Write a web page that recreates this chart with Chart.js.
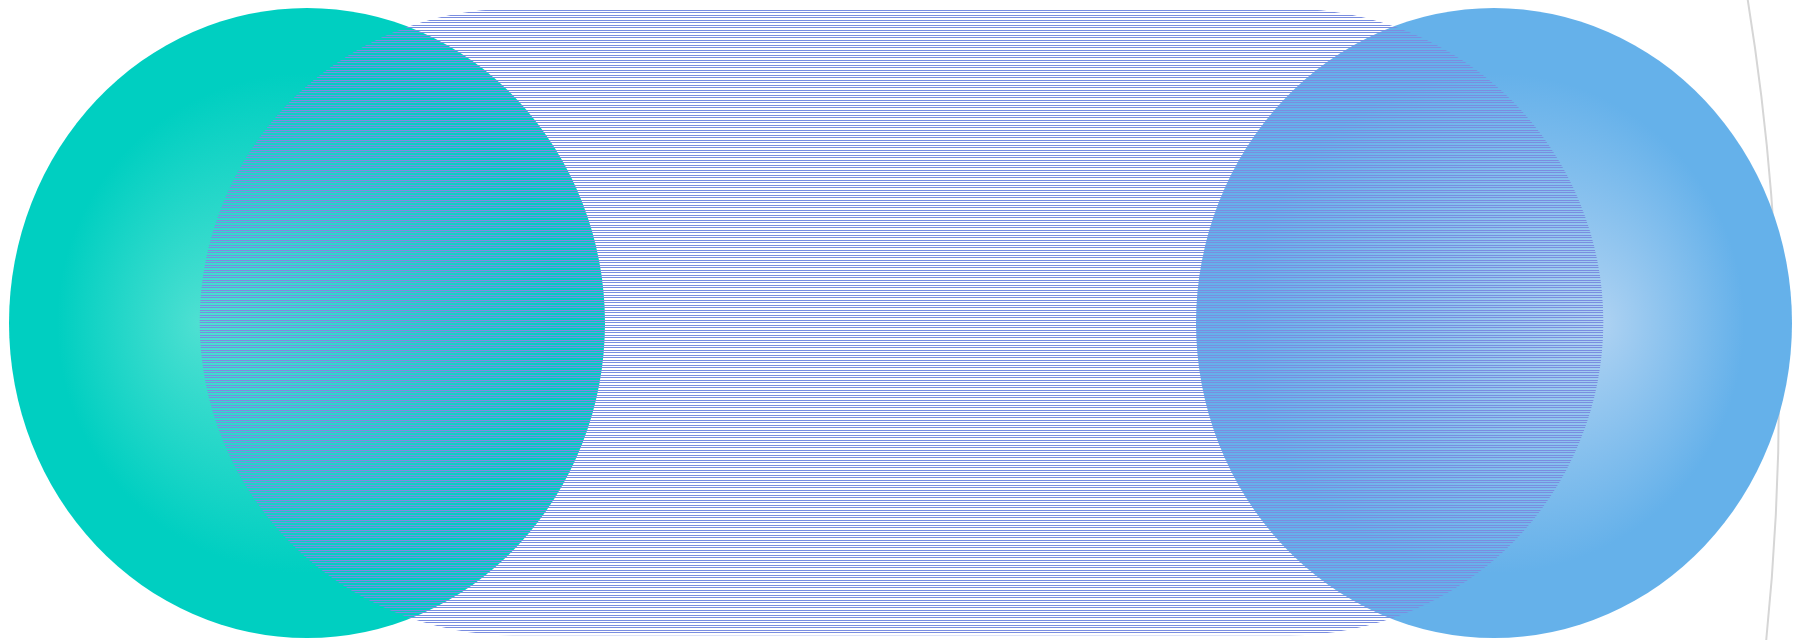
<!DOCTYPE html>
<html>
<head>
<meta charset="utf-8">
<script src="https://cdn.jsdelivr.net/npm/chart.js@4/dist/chart.umd.min.js"></script>
<style>
  html, body { margin: 0; padding: 0; background: #fff; }
  #wrap { width: 1802px; height: 640px; }
</style>
</head>
<body>
<div id="wrap"><canvas id="balls" width="1802" height="640"></canvas></div>
<script>
// values (x and y in the hidden axes' units)
const ballNames = ['teal', 'blue'];
const ballX = [307, 1494];
const ballY = [317, 317];
const ballR = [306, 306];

const bandStart = [200];
const bandEnd = [1603];
const bandY = [318];

const ringX = [-671];
const ringY = [250];
const ringR = [2450];

// sphere-ish ball drawn once, used as the point style
function makeBall(inner, outer, shift) {
    const c = document.createElement('canvas');
    c.width = 598;
    c.height = 632;
    const g = c.getContext('2d');
    const grad = g.createRadialGradient(299 + shift, 316, 0, 299, 316, 250);
    grad.addColorStop(0, inner);
    grad.addColorStop(1, outer);
    g.fillStyle = grad;
    g.beginPath();
    g.ellipse(299, 316, 298, 315, 0, 0, Math.PI * 2);
    g.fill();
    return c;
}

// thin horizontal lines, 2px / 3px apart
function makeStripes(color) {
    const c = document.createElement('canvas');
    c.width = 4;
    c.height = 5;
    const g = c.getContext('2d');
    g.fillStyle = color;
    g.fillRect(0, 0, 4, 1);
    g.fillRect(0, 2, 4, 1);
    return g.createPattern(c, 'repeat');
}

const ballStyles = [
    makeBall('#4fe0d2', '#00cfc1', -107),
    makeBall('#aed2f2', '#65b1ea', 107)
];

const ctx = document.getElementById('balls').getContext('2d');

new Chart(ctx, {
    type: 'bubble',
    data: {
        datasets: [
            {
                type: 'bar',
                label: 'band',
                indexAxis: 'y',
                order: 0,
                data: bandY.map((y, i) => ({ x: [bandStart[i], bandEnd[i]], y: y })),
                backgroundColor: makeStripes('#7a8de0'),
                borderWidth: 0,
                borderSkipped: false,
                borderRadius: 320,
                barThickness: 626,
                clip: false
            },
            {
                label: 'balls',
                order: 1,
                data: ballNames.map((n, i) => ({ x: ballX[i], y: ballY[i], r: ballR[i] })),
                pointStyle: (c) => ballStyles[c.dataIndex],
                backgroundColor: 'rgba(0,0,0,0)',
                borderWidth: 0,
                clip: false
            },
            {
                label: 'ring',
                order: 2,
                data: ringX.map((x, i) => ({ x: x, y: ringY[i], r: ringR[i] })),
                backgroundColor: 'rgba(0,0,0,0)',
                borderColor: '#d6d6d6',
                borderWidth: 2,
                clip: false
            }
        ]
    },
    options: {
        responsive: false,
        animation: false,
        events: [],
        layout: { autoPadding: false, padding: 0 },
        plugins: {
            legend: { display: false },
            tooltip: { enabled: false },
            title: { display: false }
        },
        scales: {
            x: { type: 'linear', min: 0, max: 1802, display: false },
            y: { type: 'linear', min: 0, max: 640, display: false, offset: false }
        }
    }
});
</script>
</body>
</html>
